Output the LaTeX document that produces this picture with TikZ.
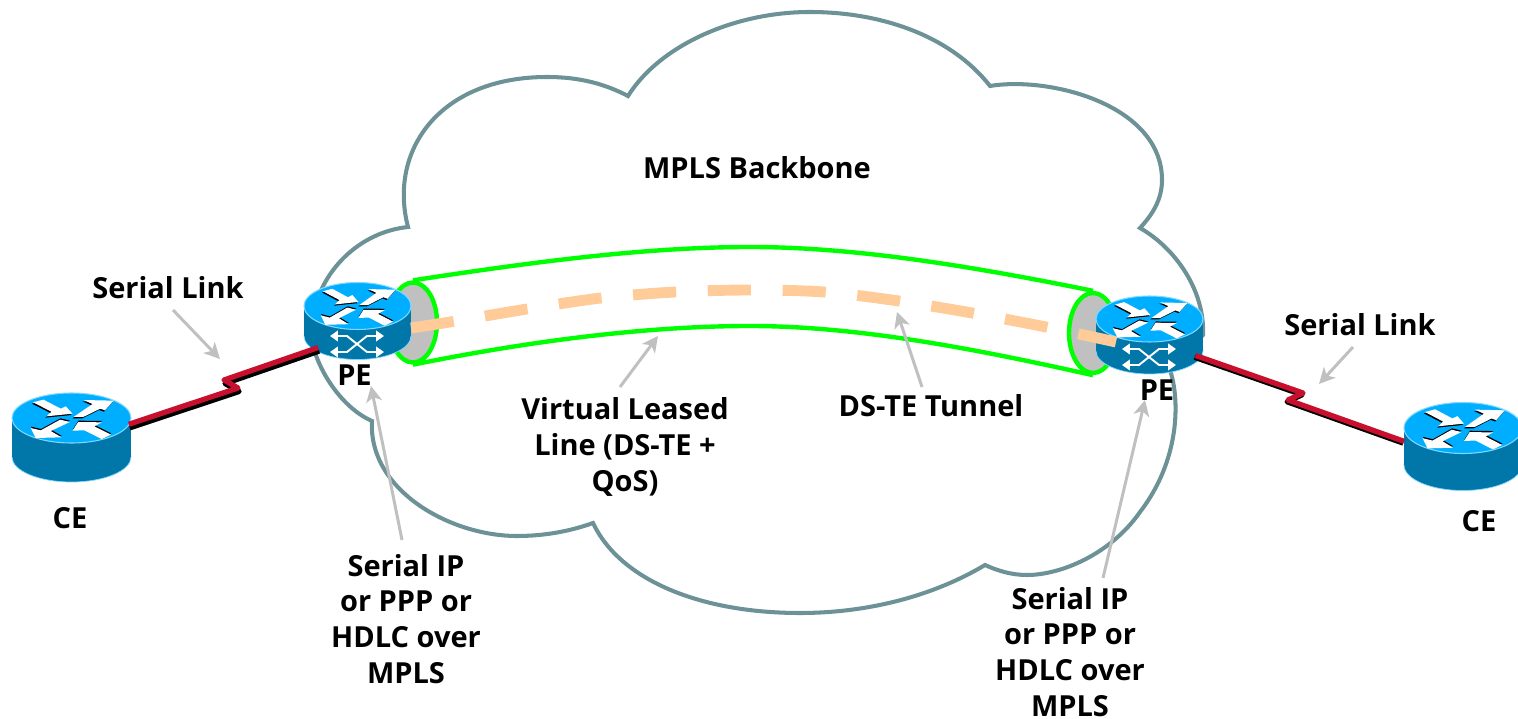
\documentclass[tikz,border=0pt]{standalone}
\usepackage{fontspec}
\setmainfont{Open Sans}
\usepackage{xcolor}
\usetikzlibrary{arrows.meta}
\usetikzlibrary{shapes.geometric}

\definecolor{cloudcol}{HTML}{6C9196}
\definecolor{rtrtopcol}{HTML}{00AEFF}
\definecolor{rtrbodycol}{HTML}{0077A8}
\definecolor{rtredgecol}{HTML}{80D8FF}
\definecolor{linkcol}{HTML}{C8102E}
\definecolor{dashcol}{HTML}{FFCC99}
\definecolor{notecol}{HTML}{C0C0C0}

\tikzset{
  lbl/.style={font=\bfseries\fontsize{16.5}{20.4}\selectfont,align=center,inner sep=0pt},
  cloudline/.style={draw=cloudcol,line width=2.3pt,line join=miter},
  tunline/.style={draw=green,line width=2.5pt},
  tunend/.style={ellipse,draw=green,fill=notecol,line width=2.5pt,inner sep=0pt,
    minimum width=.96cm,minimum height=1.6cm},
  tundash/.style={draw=dashcol,line width=6.2pt,dash pattern=on 24.6pt off 18pt},
  linkred/.style={draw=linkcol,line width=3pt,line join=round},
  linkblk/.style={draw=black,line width=3pt,line join=round},
  noteline/.style={draw=notecol,line width=1.7pt,-{Stealth[length=9pt,width=9pt,inset=2.5pt]}},
  rtrnode/.style={ellipse,inner sep=0pt},
  rtrbody/.style={fill=rtrbodycol,draw=rtredgecol,line width=.4pt},
  rtrtop/.style={fill=rtrtopcol,draw=rtredgecol,line width=.6pt}
}

% one white arrow on the router top: shift of its black edge, then its outline
\newcommand\rtrarrow[2]{
  \fill[black,shift={(#1)}] #2 -- cycle;
  \fill[white] #2 -- cycle;
}
% name, x and y of the top centre, radii, height of the side
\newcommand\router[6]{
  \node (#1) [rtrnode,minimum width={2*#4*.02cm},minimum height={(2*#5+#6)*.02cm}]
    at (#2,#3+#6/2) {};
  \path[rtrbody] (#2,#3+#6) ellipse (#4 and #5);
  \fill[rtrbodycol] (#2-#4,#3) rectangle (#2+#4,#3+#6);
  \path[rtrtop] (#2,#3) ellipse (#4 and #5);
  \begin{scope}[shift={(#2,#3)},xscale=#4/178,yscale=#5/75]
    \rtrarrow{-3,4}{(-115,-47) -- (-84,-55) -- (-32,-28) -- (-17,-35) -- (3,-13) -- (-75,-5) -- (-60,-19)}
    \rtrarrow{-3,4}{(6,-3) -- (35,-3) -- (86,-28) -- (100,-23) -- (126,-52) -- (36,-54) -- (63,-42)}
    \rtrarrow{1,-4}{(-34,5) -- (-5,12) -- (-62,39) -- (-30,58) -- (-107,60) -- (-122,30) -- (-92,37)}
    \rtrarrow{1,-4}{(118,50) -- (90,63) -- (38,37) -- (3,38) -- (20,12) -- (91,13) -- (68,25)}
  \end{scope}
}
% crossing arrows on the side of a PE
\newcommand\rtrswitch[2]{
  \begin{scope}[shift={(#1,#2)},white,line width=1.1pt,
      {Triangle[length=4.5pt,width=6pt]}-{Triangle[length=4.5pt,width=6pt]}]
    \draw (-27,-8) -- (-10,-8) -- (10,8) -- (27,8);
    \draw (-27,8) -- (-10,8) -- (10,-8) -- (27,-8);
  \end{scope}
}

\begin{document}
\begin{tikzpicture}[x=.02cm,y=-.02cm]
  \clip (0,0) rectangle (1518,719);

  \draw[cloudline] (408,227)
    .. controls (388,150) and (440,77) .. (547,77)
    .. controls (580,77) and (605,84) .. (628,96)
    .. controls (660,45) and (735,12) .. (810,12)
    .. controls (880,12) and (950,35) .. (990,86)
    .. controls (1050,76) and (1162,105) .. (1162,180)
    .. controls (1162,200) and (1152,215) .. (1140,228)
    .. controls (1175,248) and (1205,290) .. (1203,335)
    -- (1170,370)
    .. controls (1180,400) and (1180,460) .. (1140,512)
    .. controls (1110,555) and (1060,575) .. (1027,575)
    .. controls (1012,575) and (998,571) .. (985,565)
    .. controls (935,595) and (870,613) .. (800,613)
    .. controls (700,613) and (620,580) .. (593,523)
    .. controls (568,532) and (542,536) .. (517,536)
    .. controls (450,536) and (368,490) .. (372,421)
    .. controls (335,405) and (305,350) .. (312,320)
    .. controls (320,270) and (360,232) .. (408,227)
    -- cycle;

  \node (tunl) [tunend] at (413,322.5) {};
  \node (tunr) [tunend] at (1093,333) {};
  \draw[tunline] (tunl.north) .. controls (520,264) and (640,247) .. (750,247)
    .. controls (860,247) and (980,268) .. (tunr.north);
  \draw[tunline] (tunl.south) .. controls (520,343) and (640,326) .. (750,326)
    .. controls (860,326) and (980,350) .. (tunr.south);

  \router{cel}{71.5}{418}{59.5}{25}{39}
  \router{pel}{357.5}{306}{53.5}{23.5}{30}
  \router{per}{1149.5}{319}{53.5}{23}{32}
  \router{cer}{1463}{428}{59}{25.5}{37}
  \rtrswitch{357}{344}
  \rtrswitch{1149}{357}

  \coordinate (kla) at (238,388);
  \coordinate (klb) at (224,380);
  \coordinate (kra) at (1303,393);
  \coordinate (krb) at (1288,400);
  \draw[linkblk,transform canvas={shift={(.6pt,-2pt)}}] (cel.13) -- (kla) -- (klb) -- (pel.214);
  \draw[linkred] (cel.13) -- (kla) -- (klb) -- (pel.214);
  \draw[linkblk,transform canvas={shift={(-.5pt,-1pt)}}] (per.-24.5) -- (kra) -- (krb) -- (cer.175);
  \draw[linkred] (per.-24.5) -- (kra) -- (krb) -- (cer.175);

  \draw[tundash] plot[smooth] coordinates {(411,328) (453,321.5) (527,309) (601,298)
    (675,292) (750,290) (824,292) (899,301) (972,313) (1046,327) (1116,342)};

  \node (mb) [lbl] at (757,168) {MPLS Backbone};
  \node (sll) [lbl] at (168,288) {Serial Link};
  \node (slr) [lbl] at (1360,325) {Serial Link};
  \node (pe1) [lbl] at (354.5,375) {PE};
  \node (pe2) [lbl] at (1157,390) {PE};
  \node (ce1) [lbl] at (70,518) {CE};
  \node (ce2) [lbl] at (1479,521) {CE};
  \node (vll) [lbl] at (625,447) {Virtual Leased\\Line (DS-TE +\\QoS)};
  \node (dst) [lbl] at (931,406) {DS-TE Tunnel};
  \node (ipl) [lbl] at (406,619) {Serial IP\\or PPP or\\HDLC over\\MPLS};
  \node (ipr) [lbl] at (1070,652) {Serial IP\\or PPP or\\HDLC over\\MPLS};

  \path (node cs:name=sll) +(5,22) coordinate (sllo);
  \path (node cs:name=sll) +(52,71) coordinate (slli);
  \draw[noteline] (sllo) -- (slli);
  \path (node cs:name=slr) +(-7,22) coordinate (slro);
  \path (node cs:name=slr) +(-41,59) coordinate (slri);
  \draw[noteline] (slro) -- (slri);
  \path (node cs:name=ipl) +(-4,-79) coordinate (iplo);
  \path (node cs:name=ipl) +(-35,-233) coordinate (ipli);
  \draw[noteline] (iplo) -- (ipli);
  \path (node cs:name=ipr) +(33,-74) coordinate (ipro);
  \path (node cs:name=ipr) +(75,-252) coordinate (ipri);
  \draw[noteline] (ipro) -- (ipri);
  \path (node cs:name=vll) +(-5,-60) coordinate (vllo);
  \path (node cs:name=vll) +(33,-111) coordinate (vlli);
  \draw[noteline] (vllo) -- (vlli);
  \path (node cs:name=dst) +(-9,-19) coordinate (dsto);
  \path (node cs:name=dst) +(-34,-94) coordinate (dsti);
  \draw[noteline] (dsto) -- (dsti);
\end{tikzpicture}
\end{document}
